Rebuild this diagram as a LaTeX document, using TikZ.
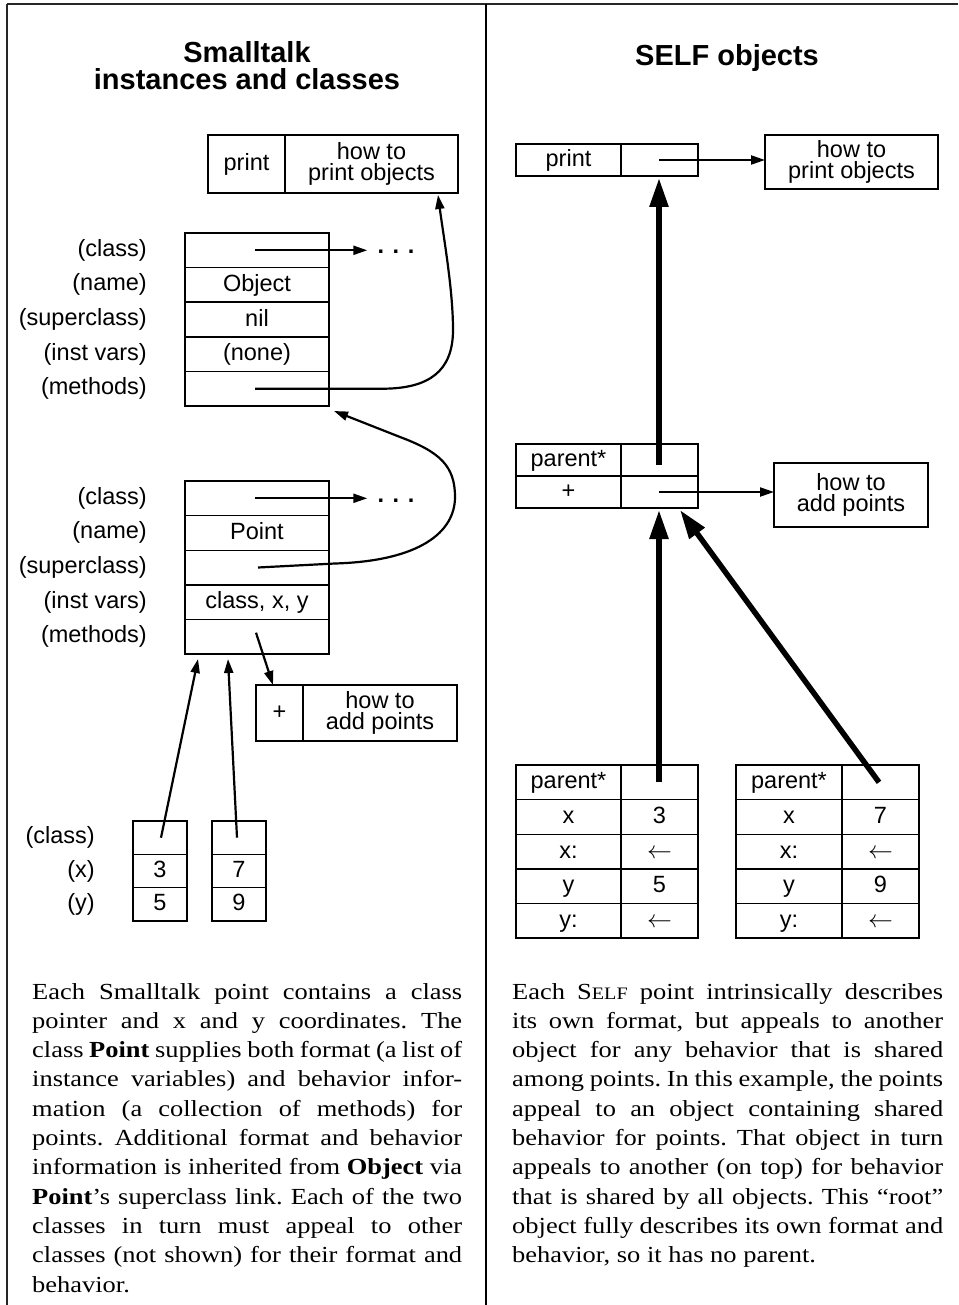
\documentclass[tikz,border=0pt]{standalone}
\usepackage{fontspec}
\setmainfont{Liberation Serif}
\setsansfont{Liberation Sans}
\newfontfamily\bodyserif[FakeStretch=1.15]{Liberation Serif}
\usetikzlibrary{arrows.meta}
\newcommand\lblfont{\sffamily\fontsize{23.5}{21}\selectfont}
\newcommand\ttlfont{\sffamily\bfseries\fontsize{29}{27}\selectfont}
\newcommand\bodyfont{\bodyserif\fontsize{23}{29.3}\selectfont\frenchspacing}
\newcommand\jline[1]{\makebox[\linewidth][s]{#1}}
\newcommand\smallcapsSELF{S{\fontsize{17.5}{29.3}\selectfont ELF}}
\begin{document}
\begin{tikzpicture}[x=1pt,y=-1pt,
  cell/.style={draw, line width=1.4pt, inner sep=0pt, outer sep=0pt, font=\lblfont, align=center},
  one/.style={text height=15.5pt, text depth=2.5pt},
  lbl/.style={font=\lblfont, inner sep=0pt, anchor=east},
  ptr/.style={line width=2.2pt, -{Triangle[length=14pt,width=9pt]}},
  bigptr/.style={line width=5.5pt, -{Triangle[length=29pt,width=18pt]}},
  frameline/.style={line width=2.5pt, draw=black!85},
]
\useasboundingbox (0,0) rectangle (958,1305);

% frame
\draw[frameline] (7,4) -- (958,4);
\draw[frameline] (7,4) -- (7,1305);
\draw[frameline, draw=black] (486,4) -- (486,1305);

% titles
\node[anchor=base, inner sep=0pt] (t1) at (247,63) {\parbox[t]{420pt}{\centering\ttlfont Smalltalk\\instances and classes}};
\node[anchor=base, inner sep=0pt, font=\ttlfont] (t2) at (727,65.5) {SELF objects};

% ---------------- left: Smalltalk ----------------
\node[cell, one, minimum width=77, minimum height=58] (pp) at (246.5,164) {print};
\node[cell, minimum width=173, minimum height=58] (ph) at (371.5,164) {how to\\print objects};

% Object class
\node[cell, minimum width=144, minimum height=34.6] (o1) at (257,250.3) {};
\node[cell, one, minimum width=144, minimum height=34.6] (o2) at (257,284.9) {Object};
\node[cell, one, minimum width=144, minimum height=34.6] (o3) at (257,319.5) {nil};
\node[cell, one, minimum width=144, minimum height=34.6] (o4) at (257,354.1) {(none)};
\node[cell, minimum width=144, minimum height=34.6] (o5) at (257,388.7) {};
\node[lbl] (lo1) at (147,250.3) {(class)};
\node[lbl] (lo2) at (147,284.9) {(name)};
\node[lbl] (lo3) at (147,319.5) {(superclass)};
\node[lbl] (lo4) at (147,354.1) {(inst vars)};
\node[lbl] (lo5) at (147,388.7) {(methods)};

% Point class
\node[cell, minimum width=144, minimum height=34.6] (p1) at (257,498.3) {};
\node[cell, one, minimum width=144, minimum height=34.6] (p2) at (257,532.9) {Point};
\node[cell, minimum width=144, minimum height=34.6] (p3) at (257,567.5) {};
\node[cell, one, minimum width=144, minimum height=34.6] (p4) at (257,602.1) {class, x, y};
\node[cell, minimum width=144, minimum height=34.6] (p5) at (257,636.7) {};
\node[lbl] (lp1) at (147,498.3) {(class)};
\node[lbl] (lp2) at (147,532.9) {(name)};
\node[lbl] (lp3) at (147,567.5) {(superclass)};
\node[lbl] (lp4) at (147,602.1) {(inst vars)};
\node[lbl] (lp5) at (147,636.7) {(methods)};

% dots
\node[lbl, anchor=base] (od) at (396,254) {\bfseries . . .};
\node[lbl, anchor=base] (pd) at (396,502) {\bfseries . . .};
\draw[ptr] ([xshift=-2pt]o1.center) -- ([xshift=-10pt]od.west |- o1.center);
\draw[ptr] ([xshift=-2pt]p1.center) -- ([xshift=-10pt]pd.west |- p1.center);

% methods of Object -> print
\draw[ptr] ([xshift=-2pt]o5.center) -- (385,388.7) .. controls (428,388) and (453,372) .. (453,330)
  .. controls (453,290) and (444,240) .. ([xshift=66.5pt,yshift=-2pt]ph.south);

% superclass of Point -> Object
\draw[ptr] ([xshift=1pt]p3.center) -- (335,563.5) .. controls (420,561) and (455,532) .. (455,497)
  .. controls (455,466) and (440,452) .. (400,437) -- ([xshift=5pt,yshift=-5pt]o5.south east);

% + box
\node[cell, one, minimum width=47, minimum height=56] (pplus) at (279.5,713) {+};
\node[cell, minimum width=154, minimum height=56] (padd) at (380,713) {how to\\add points};
\draw[ptr] ([xshift=-1pt,yshift=4pt]p5.center) -- ([xshift=-6.5pt]pplus.north);

% instances
\node[cell, minimum width=54, minimum height=33.3] (i1a) at (160,837.7) {};
\node[cell, one, minimum width=54, minimum height=33.3] (i1b) at (160,871) {3};
\node[cell, one, minimum width=54, minimum height=33.3] (i1c) at (160,904.3) {5};
\node[cell, minimum width=54, minimum height=33.3] (i2a) at (239,837.7) {};
\node[cell, one, minimum width=54, minimum height=33.3] (i2b) at (239,871) {7};
\node[cell, one, minimum width=54, minimum height=33.3] (i2c) at (239,904.3) {9};
\node[lbl] (li1) at (95,837.7) {(class)};
\node[lbl] (li2) at (95,871) {(x)};
\node[lbl] (li3) at (95,904.3) {(y)};
\draw[ptr] ([xshift=1pt]i1a.center) -- ([xshift=-59pt,yshift=-5pt]p5.south);
\draw[ptr] ([xshift=-2pt]i2a.center) -- ([xshift=-29pt,yshift=-5pt]p5.south);

% ---------------- right: SELF ----------------
\node[cell, one, minimum width=105, minimum height=32] (sp1) at (568.5,160) {print};
\node[cell, minimum width=77, minimum height=32] (sp2) at (659.5,160) {};
\node[cell, minimum width=173, minimum height=54] (spo) at (851.5,162) {how to\\print objects};
\draw[ptr] ([xshift=-0.5pt]sp2.center) -- (sp2.center -| spo.west);

\node[cell, one, minimum width=105, minimum height=32] (sq1) at (568.5,460) {parent*};
\node[cell, minimum width=77, minimum height=32] (sq2) at (659.5,460) {};
\node[cell, one, minimum width=105, minimum height=32] (sq3) at (568.5,492) {+};
\node[cell, minimum width=77, minimum height=32] (sq4) at (659.5,492) {};
\node[cell, minimum width=154, minimum height=64] (sqa) at (851,495) {how to\\add points};
\draw[ptr] ([xshift=-0.5pt]sq4.center) -- (sq4.center -| sqa.west);
\draw[bigptr] ([xshift=-0.5pt,yshift=-5pt]sq2.center) -- ([xshift=-0.5pt,yshift=-2pt]sp2.south);

% point objects
\node[cell, one, minimum width=105, minimum height=34.6] (a1) at (568.5,782.3) {parent*};
\node[cell, one, minimum width=105, minimum height=34.6] (a2) at (568.5,816.9) {x};
\node[cell, one, minimum width=105, minimum height=34.6] (a3) at (568.5,851.5) {x:};
\node[cell, one, minimum width=105, minimum height=34.6] (a4) at (568.5,886.1) {y};
\node[cell, one, minimum width=105, minimum height=34.6] (a5) at (568.5,920.7) {y:};
\node[cell, minimum width=77, minimum height=34.6] (b1) at (659.5,782.3) {};
\node[cell, one, minimum width=77, minimum height=34.6] (b2) at (659.5,816.9) {3};
\node[cell, one, minimum width=77, minimum height=34.6] (b3) at (659.5,851.5) {$\leftarrow$};
\node[cell, one, minimum width=77, minimum height=34.6] (b4) at (659.5,886.1) {5};
\node[cell, one, minimum width=77, minimum height=34.6] (b5) at (659.5,920.7) {$\leftarrow$};

\node[cell, one, minimum width=106, minimum height=34.6] (c1) at (789,782.3) {parent*};
\node[cell, one, minimum width=106, minimum height=34.6] (c2) at (789,816.9) {x};
\node[cell, one, minimum width=106, minimum height=34.6] (c3) at (789,851.5) {x:};
\node[cell, one, minimum width=106, minimum height=34.6] (c4) at (789,886.1) {y};
\node[cell, one, minimum width=106, minimum height=34.6] (c5) at (789,920.7) {y:};
\node[cell, minimum width=77, minimum height=34.6] (d1) at (880.5,782.3) {};
\node[cell, one, minimum width=77, minimum height=34.6] (d2) at (880.5,816.9) {7};
\node[cell, one, minimum width=77, minimum height=34.6] (d3) at (880.5,851.5) {$\leftarrow$};
\node[cell, one, minimum width=77, minimum height=34.6] (d4) at (880.5,886.1) {9};
\node[cell, one, minimum width=77, minimum height=34.6] (d5) at (880.5,920.7) {$\leftarrow$};

\draw[bigptr] ([xshift=-0.5pt]b1.center) -- ([xshift=-0.5pt,yshift=-2pt]sq4.south);
\draw[bigptr] ([xshift=-1.5pt]d1.center) -- ([xshift=20.5pt,yshift=-2pt]sq4.south);

% ---------------- captions ----------------
\node[anchor=base west, inner sep=0pt] (txl) at (32,999) {\parbox[t]{430pt}{\bodyfont
\jline{Each Smalltalk point contains a class}\\
\jline{pointer and x and y coordinates. The}\\
\jline{class \textbf{Point} supplies both format (a list of}\\
\jline{instance variables) and behavior infor-}\\
\jline{mation (a collection of methods) for}\\
\jline{points. Additional format and behavior}\\
\jline{information is inherited from \textbf{Object} via}\\
\jline{\textbf{Point}’s superclass link. Each of the two}\\
\jline{classes in turn must appeal to other}\\
\jline{classes (not shown) for their format and}\\
behavior.}};

\node[anchor=base west, inner sep=0pt] (txr) at (512,999) {\parbox[t]{431pt}{\bodyfont
\jline{Each \smallcapsSELF{} point intrinsically describes}\\
\jline{its own format, but appeals to another}\\
\jline{object for any behavior that is shared}\\
\jline{among points. In this example, the points}\\
\jline{appeal to an object containing shared}\\
\jline{behavior for points. That object in turn}\\
\jline{appeals to another (on top) for behavior}\\
\jline{that is shared by all objects. This “root”}\\
\jline{object fully describes its own format and}\\
behavior, so it has no parent.}};
\end{tikzpicture}
\end{document}
